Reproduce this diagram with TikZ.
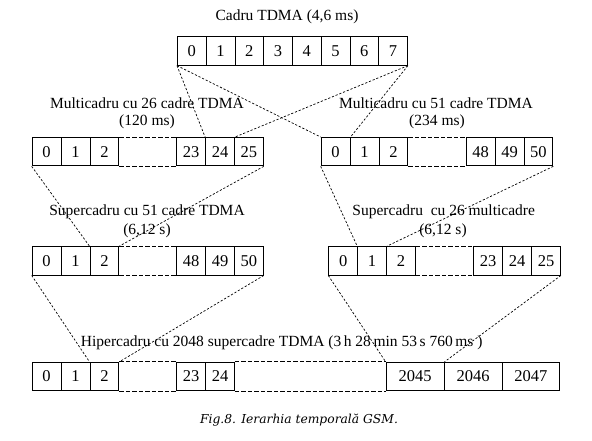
\documentclass[tikz,border=0pt]{standalone}
\usepackage{fontspec}
\setmainfont{Liberation Serif}
\newfontfamily\capfont{DejaVu Serif}
\newcommand\figfs{\fontsize{15.5}{18}\selectfont}
\newcommand\cellfs{\fontsize{16.5}{19}\selectfont}
\begin{document}
\begin{tikzpicture}[x=1pt,y=-1pt,
  cell/.style={draw, line width=0.9pt, minimum height=28.4pt, minimum width=28.9pt, inner sep=0pt, anchor=west, font=\cellfs},
  wide/.style={cell, minimum width=57.9pt},
  lbl/.style={inner sep=0pt, font=\figfs},
  gap/.style={line width=0.9pt, dash pattern=on 4.5pt off 2pt},
  conn/.style={line width=0.7pt, dash pattern=on 2.2pt off 1.8pt}]
\useasboundingbox (0,0) rectangle (592,441);

% ---- labels
\node[lbl] (tt) at (287,17) {Cadru TDMA (4,6 ms)};
\node[lbl] (ta) at (147,103) {Multicadru cu 26 cadre TDMA};
\node[lbl] (ta2) at (147,122) {(120 ms)};
\node[lbl] (tb) at (436,103) {Multicadru cu 51 cadre TDMA};
\node[lbl] (tb2) at (437,122) {(234 ms)};
\node[lbl] (tc) at (147,212) {Supercadru cu 51 cadre TDMA};
\node[lbl] (tc2) at (147,231) {(6,12 s)};
\node[lbl] (td) at (443.7,212) {Supercadru\ \ cu 26 multicadre};
\node[lbl] (td2) at (443,231) {(6,12 s)};
\node[lbl] (th) at (281.7,342.7) {Hipercadru cu 2048 supercadre TDMA (3\,h 28\,min 53\,s 760\,ms )};
\node[inner sep=0pt, font=\capfont\fontsize{12.3}{14}\selectfont\itshape] (cap) at (299,420.5) {Fig.8. Ierarhia temporală GSM.};

% ---- TDMA frame
\foreach \i in {0,...,7}
  \node[cell, minimum width=28.75pt] (t\i) at ({177+28.75*\i},51) {\i};

% ---- multiframe 26
\node[cell] (a0) at (31.7,151.7) {0};
\node[cell] (a1) at (60.6,151.7) {1};
\node[cell] (a2) at (89.5,151.7) {2};
\node[cell] (a23) at (176.2,151.7) {23};
\node[cell] (a24) at (205.1,151.7) {24};
\node[cell] (a25) at (234.0,151.7) {25};
\draw[gap] (a2.north east) -- (a23.north west);
\draw[gap] (a2.south east) -- (a23.south west);

% ---- multiframe 51
\node[cell] (b0) at (320.7,151.7) {0};
\node[cell] (b1) at (349.6,151.7) {1};
\node[cell] (b2) at (378.5,151.7) {2};
\node[cell] (b48) at (465.7,151.7) {48};
\node[cell] (b49) at (494.6,151.7) {49};
\node[cell] (b50) at (523.5,151.7) {50};
\draw[gap] (b2.north east) -- (b48.north west);
\draw[gap] (b2.south east) -- (b48.south west);

% ---- superframe 51
\node[cell] (c0) at (31.7,260.8) {0};
\node[cell] (c1) at (60.6,260.8) {1};
\node[cell] (c2) at (89.5,260.8) {2};
\node[cell] (c48) at (176.2,260.8) {48};
\node[cell] (c49) at (205.1,260.8) {49};
\node[cell] (c50) at (234.0,260.8) {50};
\draw[gap] (c2.north east) -- (c48.north west);
\draw[gap] (c2.south east) -- (c48.south west);

% ---- superframe 26
\node[cell] (d0) at (328.3,260.8) {0};
\node[cell] (d1) at (357.2,260.8) {1};
\node[cell] (d2) at (386.1,260.8) {2};
\node[cell] (d23) at (473.3,260.8) {23};
\node[cell] (d24) at (502.2,260.8) {24};
\node[cell] (d25) at (531.1,260.8) {25};
\draw[gap] (d2.north east) -- (d23.north west);
\draw[gap] (d2.south east) -- (d23.south west);

% ---- hyperframe
\node[cell] (h0) at (31.7,376.5) {0};
\node[cell] (h1) at (60.6,376.5) {1};
\node[cell] (h2) at (89.5,376.5) {2};
\node[cell] (h23) at (176.2,376.5) {23};
\node[cell] (h24) at (205.1,376.5) {24};
\node[wide] (h2045) at (385.7,376.5) {2045};
\node[wide] (h2046) at (443.6,376.5) {2046};
\node[wide] (h2047) at (501.5,376.5) {2047};
\draw[gap] (h2.north east) -- (h23.north west);
\draw[gap] (h2.south east) -- (h23.south west);
\draw[gap] (h24.north east) -- (h2045.north west);
\draw[gap] (h24.south east) -- (h2045.south west);

% ---- connectors
\draw[conn] (t0.south west) -- (a24.north west);
\draw[conn] (t7.south east) -- (a24.north east);
\draw[conn] (t0.south west) -- (b0.north west);
\draw[conn] (t7.south east) -- (b0.north east);
\draw[conn] (a0.south west) -- (c2.north west);
\draw[conn] (a25.south east) -- (c2.north east);
\draw[conn] (b0.south west) -- (d1.north west);
\draw[conn] (b50.south east) -- (d1.north east);
\draw[conn] (c0.south west) -- (h2.north west);
\draw[conn] (c50.south east) -- (h2.north east);
\draw[conn] (d0.south west) -- (h2045.north west);
\draw[conn] (d25.south east) -- (h2045.north east);
\end{tikzpicture}
\end{document}
